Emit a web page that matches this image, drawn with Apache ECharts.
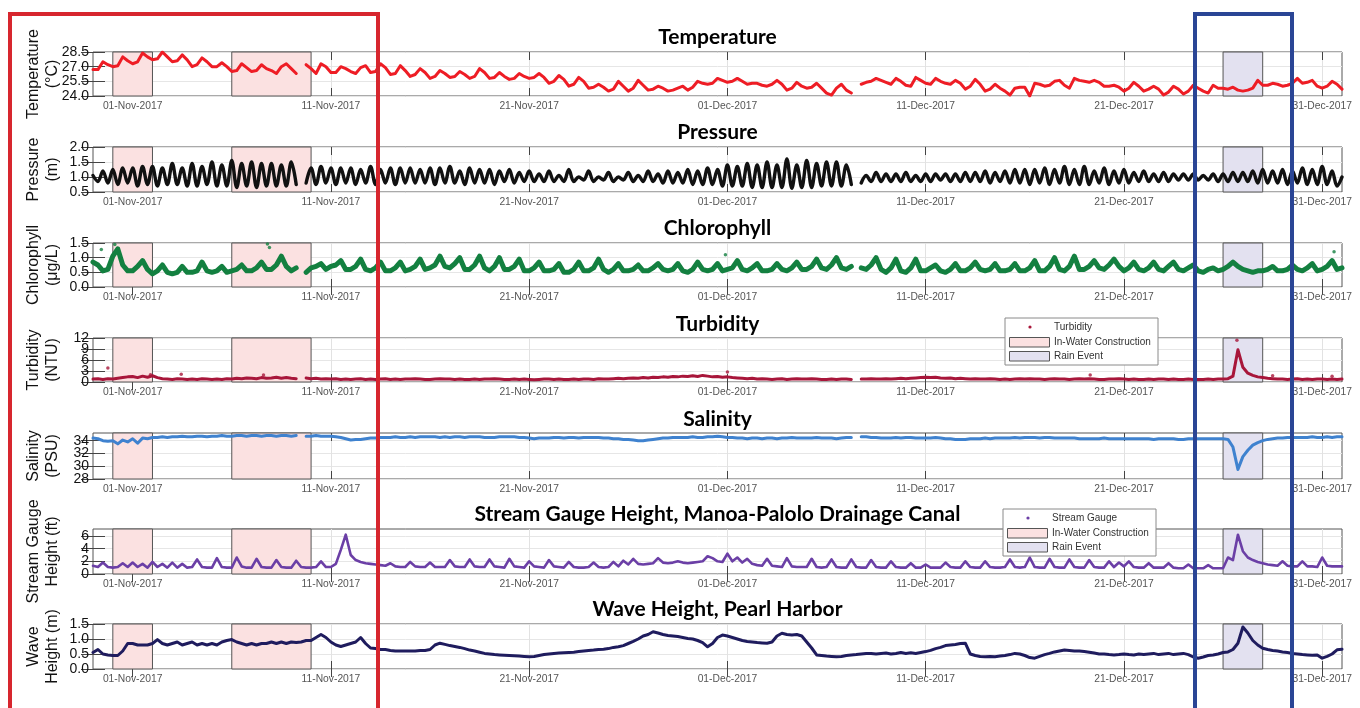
<!DOCTYPE html>
<html><head><meta charset="utf-8">
<script src="https://cdn.jsdelivr.net/npm/echarts@6/dist/echarts.min.js"></script>
<style>html,body{margin:0;padding:0;background:#fff}#c{width:1360px;height:708px}</style>
</head><body><div id="c"></div>
<script>
// ---- time base: x values are days since 30-Oct-2017 00:00, sampled every 6 h ----
const START_UTC = Date.UTC(2017, 9, 30);
const STEP_DAYS = 0.25;
const X_MAX_DAYS = 63;
const tickDays = [2, 12, 22, 32, 42, 52, 62];           // 01-Nov ... 31-Dec
const constructionPeriods = [[1, 3], [7, 11]];          // 31-Oct..02-Nov, 06-Nov..10-Nov
const rainPeriods = [[57, 59]];                         // 26-Dec..28-Dec
const panelTitles = ['Temperature','Pressure','Chlorophyll','Turbidity','Salinity','Stream Gauge Height, Manoa-Palolo Drainage Canal','Wave Height, Pearl Harbor'];
const yNames = ['Temperature\n(°C)','Pressure\n(m)','Chlorophyll\n(μg/L)','Turbidity\n(NTU)','Salinity\n(PSU)','Stream Gauge\nHeight (ft)','Wave\nHeight (m)'];
const seriesNames = ['Temperature','Pressure','Chlorophyll','Turbidity','Salinity','Stream Gauge','Wave Height'];

const temperature = [
26.7,26.7,27.5,27.2, 27.0,27.1,28.0,27.6, 27.3,27.5,28.4,28.0, 27.7,27.8,28.5,28.0, 27.5,27.6,28.2,27.7,
27.0,27.2,27.9,27.5, 27.0,27.0,27.4,27.0, 26.5,26.6,27.3,26.9, 26.5,26.6,27.2,26.8, 26.6,26.3,27.0,27.3,
26.8,26.3,null,27.2, 26.8,26.3,27.3,27.0, 26.4,26.4,27.0,26.8, 26.5,26.3,26.9,27.1, 26.4,26.5,27.3,26.9,
26.2,26.3,27.1,26.6, 26.0,26.2,26.8,26.4, 25.8,26.0,26.6,26.3, 25.9,26.0,26.5,26.2, 25.8,26.0,26.8,26.4,
25.8,25.9,26.4,26.0, 25.7,25.8,26.3,26.0, 25.8,25.9,26.3,25.9, 25.3,25.5,26.1,25.7, 25.0,25.2,25.9,25.5,
24.8,24.9,25.2,24.9, 24.5,24.7,25.5,25.0, 24.5,24.8,25.6,25.1, 24.6,24.7,25.0,24.8, 24.5,24.6,24.8,25.0,
24.6,24.9,25.5,25.3, 25.2,25.3,25.8,25.6, 25.4,25.5,25.8,25.5, 25.2,25.3,25.3,25.1, 25.0,25.2,25.6,25.2,
24.6,24.8,25.4,25.0, 24.8,24.9,25.3,24.8, 24.3,24.1,24.8,25.2, 24.6,24.3,null,25.2, 25.4,25.5,25.8,25.6,
25.4,25.2,25.8,25.5, 25.1,25.0,25.9,25.6, 25.3,25.2,25.8,25.5, 25.3,25.2,25.6,25.3, 24.7,25.0,25.7,25.2,
24.5,24.7,25.2,24.8, 24.5,24.1,24.8,24.9, 24.9,24.0,25.3,25.2, 25.0,25.1,25.5,25.6, 25.1,24.8,25.8,25.6,
25.5,25.4,25.6,25.4, 25.0,25.0,25.1,24.9, 24.5,24.8,25.4,25.0, 24.5,24.7,25.0,24.7, 24.1,24.4,25.0,24.7,
24.2,24.5,25.1,24.8, 24.5,24.3,25.1,24.8, 24.8,24.7,24.9,24.6, 24.5,24.6,24.8,25.6, 25.1,25.1,25.3,25.2,
25.0,25.1,25.3,25.8, 25.3,25.4,25.6,25.0, 24.8,25.0,25.5,25.2, 24.7];

const pressure = [
1.05,0.85,1.2,0.8, 1.25,0.75,1.3,0.8, 1.3,0.7,1.35,0.75, 1.35,0.7,1.3,0.75, 1.45,0.75,1.3,0.7,
1.45,0.7,1.35,0.75, 1.5,0.7,1.4,0.7, 1.55,0.65,1.45,0.7, 1.5,0.65,1.45,0.7, 1.45,0.7,1.4,0.7,
1.5,0.75,null,0.8, 1.3,0.75,1.35,0.8, 1.3,0.75,1.3,0.8, 1.3,0.75,1.25,0.8, 1.35,0.75,1.25,0.8,
1.3,0.75,1.3,0.8, 1.3,0.8,1.25,0.8, 1.3,0.75,1.3,0.8, 1.35,0.8,1.2,0.75, 1.3,0.8,1.25,0.8,
1.25,0.75,1.2,0.85, 1.25,0.8,1.15,0.85, 1.2,0.85,1.1,0.85, 1.2,0.85,1.05,0.85, 1.25,0.85,1.0,0.9,
1.2,0.85,1.0,0.9, 1.15,0.85,1.0,0.9, 1.15,0.85,1.05,0.85, 1.2,0.85,1.1,0.8, 1.2,0.8,1.15,0.8,
1.25,0.75,1.2,0.75, 1.3,0.75,1.25,0.7, 1.4,0.7,1.35,0.7, 1.45,0.65,1.4,0.65, 1.5,0.65,1.4,0.65,
1.6,0.62,1.4,0.65, 1.55,0.65,1.45,0.7, 1.5,0.7,1.5,0.7, 1.4,0.75,null,0.8, 1.05,0.85,1.15,0.85,
1.1,0.85,1.1,0.85, 1.15,0.85,1.05,0.85, 1.1,0.85,1.1,0.9, 1.1,0.85,1.1,0.85, 1.15,0.85,1.15,0.85,
1.2,0.8,1.15,0.85, 1.2,0.8,1.25,0.8, 1.25,0.75,1.25,0.8, 1.3,0.75,1.25,0.8, 1.35,0.75,1.25,0.75,
1.35,0.75,1.2,0.8, 1.3,0.75,1.2,0.8, 1.25,0.8,1.15,0.85, 1.2,0.85,1.1,0.85, 1.15,0.85,1.1,0.9,
1.1,0.9,1.1,0.9, 1.05,0.9,1.1,0.85, 1.1,0.85,1.15,0.85, 1.15,0.85,1.2,0.8, 1.25,0.8,1.2,0.8,
1.25,0.75,1.2,0.8, 1.3,0.75,1.25,0.75, 1.35,0.75,1.2,0.7, 1.0];

const chlorophyll = [
0.85,0.75,0.55,0.6, 1.05,1.3,0.75,0.55, 0.55,0.7,0.9,0.6, 0.45,0.55,0.75,0.5, 0.45,0.5,0.7,0.5,
0.5,0.55,0.85,0.55, 0.5,0.55,0.7,0.5, 0.55,0.6,0.75,0.55, 0.55,0.65,0.85,0.6, 0.6,0.75,1.05,0.7,
0.55,0.65,null,0.5, 0.65,0.7,0.8,0.6, 0.7,0.75,0.9,0.6, 0.6,0.7,0.95,0.6, 0.55,0.65,0.85,0.55,
0.55,0.65,0.85,0.55, 0.6,0.7,0.95,0.6, 0.65,0.75,1.05,0.7, 0.65,0.8,1.0,0.6, 0.6,0.75,1.05,0.65,
0.55,0.7,1.0,0.6, 0.6,0.7,0.95,0.55, 0.55,0.65,0.85,0.55, 0.55,0.6,0.8,0.5, 0.5,0.6,0.85,0.55,
0.55,0.65,0.95,0.6, 0.5,0.6,0.8,0.55, 0.55,0.6,0.75,0.55, 0.55,0.65,0.8,0.6, 0.55,0.6,0.8,0.55,
0.5,0.6,0.85,0.6, 0.55,0.6,0.8,0.55, 0.6,0.65,0.9,0.6, 0.55,0.65,0.8,0.55, 0.55,0.6,0.8,0.6,
0.55,0.65,0.85,0.6, 0.6,0.7,0.95,0.65, 0.6,0.75,1.0,0.65, 0.6,0.7,null,0.65, 0.6,0.75,1.0,0.6,
0.5,0.65,0.95,0.55, 0.5,0.65,0.95,0.55, 0.55,0.65,0.75,0.55, 0.5,0.6,0.8,0.55, 0.55,0.65,0.85,0.6,
0.55,0.6,0.8,0.55, 0.55,0.6,0.8,0.55, 0.55,0.65,0.9,0.55, 0.55,0.7,1.0,0.6, 0.55,0.7,1.05,0.6,
0.6,0.7,0.9,0.65, 0.6,0.75,0.95,0.7, 0.55,0.65,0.85,0.6, 0.55,0.65,0.85,0.6, 0.55,0.7,0.85,0.6,
0.55,0.65,0.75,0.55, 0.5,0.6,0.65,0.55, 0.6,0.7,0.85,0.7, 0.6,0.55,0.5,0.55, 0.55,0.6,0.7,0.55,
0.55,0.6,0.75,0.6, 0.55,0.65,0.8,0.55, 0.6,0.7,0.9,0.6, 0.65];
const chlorophyllOutliers = [[0.42, 1.28], [1.1, 1.45], [8.8, 1.47], [8.9, 1.35], [31.9, 1.1], [55.6, 1.3], [62.6, 1.2]];

const turbidity = [
0.8,0.9,0.7,0.9, 0.8,1.0,1.2,1.4, 1.5,1.2,1.6,1.3, 1.7,1.2,0.9,0.8, 0.7,0.9,0.8,0.7,
0.8,0.7,0.9,0.8, 0.7,0.8,0.7,0.9, 0.8,1.0,0.9,1.1, 1.0,0.9,1.2,1.0, 1.1,1.3,1.0,1.2,
1.0,0.9,null,1.1, 0.9,1.0,0.8,0.9, 0.8,0.9,0.7,0.8, 0.7,0.8,0.9,0.7, 0.8,0.7,0.8,0.9,
0.7,0.8,0.7,0.8, 0.8,0.9,0.8,0.7, 0.7,0.8,0.9,0.8, 0.8,0.7,0.8,0.7, 0.7,0.8,0.7,0.8,
0.8,0.9,0.8,0.7, 0.7,0.8,0.7,0.8, 0.7,0.6,0.7,0.8, 0.8,0.7,0.8,0.7, 0.7,0.8,0.7,0.8,
0.8,0.7,0.9,0.8, 0.8,0.9,1.0,0.9, 1.0,1.1,1.0,1.2, 1.1,1.3,1.2,1.4, 1.3,1.5,1.4,1.6,
1.5,1.7,1.5,1.8, 1.6,1.4,1.5,1.3, 1.4,1.2,1.1,1.0, 0.9,1.0,0.8,0.9, 0.8,0.7,0.8,0.9,
0.7,0.8,0.9,0.8, 0.8,0.9,0.8,0.7, 0.7,0.8,0.7,0.8, 0.8,0.7,null,0.8, 0.8,0.9,0.8,0.8,
0.9,0.8,0.9,1.0, 0.9,1.0,1.1,1.2, 1.3,1.2,1.3,1.1, 1.0,1.1,0.9,1.0, 0.9,0.8,0.9,0.8,
0.8,0.9,0.8,0.7, 0.8,0.7,0.8,0.9, 0.8,0.9,0.8,0.8, 0.7,0.8,0.9,0.8, 0.8,0.7,0.8,0.9,
0.8,0.9,0.8,0.7, 0.7,0.8,0.8,0.9, 0.8,0.7,0.8,0.7, 0.7,0.8,0.7,0.8, 0.8,0.7,0.8,0.7,
0.7,0.8,0.7,0.7, 0.7,0.8,0.7,0.8, 0.8,0.9,1.6,8.8, 4.0,2.4,1.8,1.4, 1.2,1.0,0.9,0.8,
0.8,0.7,0.8,0.9, 0.7,0.8,0.7,0.8, 0.8,0.7,0.8,0.7, 0.8];
const turbidityOutliers = [[0.75, 3.8], [2.9, 2.0], [4.45, 2.1], [8.6, 1.9], [32.0, 2.7], [50.3, 1.9], [57.7, 11.4], [59.5, 1.7], [62.5, 1.6]];

const salinity = [
34.4,34.3,34.0,33.9, 34.0,33.5,34.1,33.8, 34.3,33.6,34.4,34.3, 34.5,34.5,34.6,34.5, 34.6,34.6,34.7,34.6,
34.6,34.7,34.7,34.6, 34.7,34.7,34.8,34.7, 34.7,34.8,34.8,34.7, 34.8,34.8,34.7,34.8, 34.8,34.7,34.8,34.8,
34.7,34.8,null,34.7, 34.7,34.8,34.7,34.7, 34.7,34.6,34.5,34.3, 34.1,34.2,34.2,34.3, 34.4,34.4,34.5,34.5,
34.5,34.6,34.5,34.5, 34.6,34.5,34.6,34.6, 34.6,34.6,34.5,34.6, 34.5,34.6,34.6,34.5, 34.6,34.6,34.6,34.5,
34.5,34.5,34.6,34.6, 34.6,34.6,34.5,34.5, 34.4,34.3,34.4,34.4, 34.4,34.5,34.5,34.4, 34.5,34.5,34.4,34.5,
34.5,34.5,34.5,34.4, 34.4,34.3,34.3,34.2, 34.2,34.1,34.0,34.0, 34.1,34.2,34.3,34.4, 34.4,34.5,34.5,34.5,
34.5,34.6,34.5,34.5, 34.6,34.6,34.7,34.6, 34.5,34.5,34.4,34.4, 34.3,34.4,34.4,34.3, 34.4,34.4,34.3,34.4,
34.4,34.5,34.4,34.4, 34.4,34.4,34.5,34.4, 34.4,34.4,34.3,34.4, 34.5,34.5,null,34.6, 34.6,34.5,34.5,34.4,
34.4,34.4,34.5,34.4, 34.5,34.5,34.4,34.4, 34.4,34.4,34.5,34.4, 34.3,34.3,34.2,34.2, 34.2,34.3,34.3,34.3,
34.4,34.3,34.4,34.4, 34.4,34.4,34.5,34.4, 34.5,34.5,34.5,34.4, 34.5,34.5,34.4,34.4, 34.4,34.4,34.4,34.3,
34.3,34.3,34.3,34.3, 34.4,34.3,34.3,34.3, 34.3,34.3,34.3,34.3, 34.3,34.3,34.2,34.3, 34.3,34.3,34.3,34.2,
34.2,34.3,34.3,34.3, 34.3,34.3,34.3,34.3, 34.3,34.2,33.0,29.5, 31.5,32.5,33.3,33.7, 34.0,34.2,34.3,34.4,
34.4,34.5,34.5,34.5, 34.5,34.5,34.6,34.5, 34.5,34.6,34.5,34.6, 34.6];

const streamGauge = [
1.3,1.1,1.8,1.1, 1.0,1.1,1.7,1.1, 1.8,1.1,1.6,1.0, 1.9,1.1,1.6,1.0, 1.8,1.0,1.6,1.0,
1.1,2.3,1.1,1.0, 1.0,2.5,1.1,1.0, 1.0,2.6,1.2,1.0, 1.0,2.4,1.1,1.0, 1.0,2.2,1.1,1.0,
1.0,2.1,1.1,1.0, 1.0,1.1,2.0,1.1, 1.1,1.6,3.8,6.2, 3.0,2.2,1.9,1.7, 1.6,1.5,1.4,1.3,
1.7,1.2,1.1,1.1, 1.9,1.2,1.1,1.1, 1.8,1.1,1.1,1.1, 2.2,1.2,1.1,1.1, 2.3,1.2,1.1,1.1,
2.3,1.2,1.1,1.0, 2.4,1.2,1.1,1.0, 2.0,1.2,1.1,1.0, 2.2,1.2,1.1,1.0, 1.9,1.1,1.0,1.0,
1.1,1.8,1.1,1.0, 1.1,1.9,1.2,2.1, 1.5,2.4,1.6,1.5, 1.6,1.7,2.5,1.8, 1.7,1.8,2.0,1.8,
1.7,1.8,1.9,2.0, 2.8,2.5,2.0,1.9, 3.2,2.0,2.6,1.8, 2.4,1.6,1.4,1.3, 2.4,1.3,1.2,1.1,
2.5,1.2,1.1,1.1, 1.1,2.4,1.1,1.0, 1.1,2.3,1.1,1.0, 1.0,2.3,1.1,1.0, 1.0,2.2,1.1,1.0,
1.0,2.0,1.1,1.0, 1.0,1.7,1.0,1.0, 1.5,1.0,1.0,1.0, 1.8,1.1,1.0,1.0, 2.0,1.1,1.0,1.0,
2.0,1.1,1.0,1.0, 1.1,2.3,1.1,1.0, 1.1,2.6,1.1,1.0, 1.0,2.4,1.1,1.0, 1.0,2.3,1.1,1.0,
1.0,2.2,1.1,1.0, 1.0,2.0,1.1,1.8, 1.2,2.0,1.1,1.0, 1.0,1.7,1.0,1.0, 1.0,1.7,1.0,0.9,
0.9,1.5,0.9,0.9, 0.9,1.4,0.9,0.9, 0.9,2.6,2.2,6.2, 3.6,2.6,2.2,1.9, 1.7,1.5,1.4,1.3,
2.0,1.3,1.2,1.2, 2.0,1.2,1.2,1.1, 2.6,1.3,1.2,1.2, 1.2];

const waveHeight = [
0.55,0.65,0.5,0.47, 0.45,0.45,0.6,0.85, 0.85,0.8,0.8,0.8, 0.85,0.98,0.85,0.8, 0.85,0.9,0.8,0.85,
0.9,0.8,0.85,0.8, 0.85,0.8,0.9,0.95, 0.98,0.9,0.85,0.8, 0.85,0.8,0.85,0.85, 0.9,0.85,0.9,0.85,
0.9,0.88,0.9,0.95, 0.95,1.05,1.15,1.05, 0.9,0.8,0.75,0.8, 0.85,0.9,1.05,0.85, 0.7,0.68,0.65,0.65,
0.62,0.6,0.6,0.6, 0.6,0.6,0.62,0.62, 0.65,0.8,0.86,0.82, 0.78,0.75,0.72,0.68, 0.63,0.6,0.56,0.52,
0.5,0.48,0.47,0.46, 0.45,0.44,0.43,0.42, 0.41,0.42,0.45,0.48, 0.5,0.52,0.53,0.54, 0.55,0.56,0.58,0.6,
0.62,0.63,0.65,0.66, 0.68,0.72,0.74,0.78, 0.85,0.92,1.0,1.1, 1.15,1.24,1.2,1.15, 1.12,1.1,1.08,1.05,
1.02,1.0,0.95,0.88, 0.74,0.85,1.05,1.13, 1.1,1.05,1.0,0.95, 0.92,0.9,0.88,0.87, 0.86,0.9,1.1,1.19,
1.15,1.13,1.15,1.1, 0.9,0.7,0.47,0.45, 0.43,0.42,0.41,0.42, 0.45,0.47,0.48,0.5, 0.52,0.52,0.5,0.52,
0.53,0.5,0.52,0.55, 0.52,0.54,0.52,0.55, 0.58,0.62,0.68,0.72, 0.78,0.8,0.82,0.85, 0.86,0.5,0.45,0.42,
0.41,0.42,0.41,0.43, 0.45,0.48,0.52,0.5, 0.45,0.38,0.36,0.42, 0.48,0.52,0.57,0.6, 0.63,0.62,0.6,0.6,
0.58,0.56,0.53,0.5, 0.5,0.48,0.47,0.48, 0.5,0.48,0.47,0.5, 0.48,0.5,0.52,0.48, 0.5,0.52,0.48,0.5,
0.52,0.48,0.4,0.36, 0.4,0.45,0.47,0.5, 0.55,0.57,0.65,0.86, 1.4,1.2,0.95,0.8, 0.69,0.65,0.62,0.6,
0.57,0.55,0.52,0.5, 0.48,0.47,0.46,0.47, 0.36,0.42,0.5,0.64, 0.66];

// ---- axis ranges and tick labels ----
const yMins = [24, 0.5, 0, 0, 28, 0, 0];
const yMaxs = [28.5, 2.0, 1.5, 12, 35.2, 7.1, 1.5];
const yIntervals = [1.5, 0.5, 0.5, 3, 2, 2, 0.5];
const yTickValues = [
  [24.0, 25.5, 27.0, 28.5], [0.5, 1.0, 1.5, 2.0], [0.0, 0.5, 1.0, 1.5], [0, 3, 6, 9, 12],
  [28, 30, 32, 34], [0, 2, 4, 6], [0.0, 0.5, 1.0, 1.5]];
const yDecimals = [1, 1, 1, 0, 0, 0, 1];

// ---- styling / layout (not data) ----
const panelValues = [temperature, pressure, chlorophyll, turbidity, salinity, streamGauge, waveHeight];
const panelOutliers = [null, null, chlorophyllOutliers, turbidityOutliers, null, null, null];
const colors = ['#ee1d25', '#111111', '#138040', '#a8163a', '#3f82cf', '#6b3fa6', '#1f1c5e'];
const widths = [3, 3.4, 5, 3, 3, 2.6, 3];
const smooths = [false, 0.35, false, false, false, false, false];
const gridTops = [52, 147, 243, 338, 433, 529, 624];
const gridHeights = [44, 45, 44, 44, 46, 45, 45];
const titleCenters = [37, 132, 228, 324, 419, 514, 609];
const GRID_LEFT = 93, GRID_RIGHT = 18;
const PINK = '#fbe1e1', LAVENDER = '#e3e1f0';

const MONTHS = ['Jan','Feb','Mar','Apr','May','Jun','Jul','Aug','Sep','Oct','Nov','Dec'];
function fmtDate(d) {
  const dt = new Date(START_UTC + Math.round(d * 86400000));
  return String(dt.getUTCDate()).padStart(2, '0') + '-' + MONTHS[dt.getUTCMonth()] + '-' + dt.getUTCFullYear();
}
const toXY = vals => vals.map((v, k) => [k * STEP_DAYS, v]);
const areaData = periods => periods.map(([a, b]) => [{ xAxis: a }, { xAxis: b }]);

const grid = [], xAxis = [], yAxis = [], series = [], title = [];
for (let i = 0; i < 7; i++) {
  grid.push({ left: GRID_LEFT, right: GRID_RIGHT, top: gridTops[i], height: gridHeights[i], show: true,
    borderColor: '#555', borderWidth: 1, backgroundColor: 'rgba(0,0,0,0)' });
  const tickCommon = { show: true, inside: true, length: 8, lineStyle: { color: '#444', width: 1 }, customValues: tickDays };
  xAxis.push({ type: 'value', gridIndex: i, min: 0, max: X_MAX_DAYS, position: 'bottom',
    axisLine: { show: false }, axisTick: tickCommon,
    axisLabel: { customValues: tickDays, formatter: fmtDate, fontSize: 10.3, color: '#555', margin: 5, fontFamily: 'Liberation Sans',
      hideOverlap: false, showMinLabel: true, showMaxLabel: true },
    splitLine: { show: true, lineStyle: { color: '#e2e2e2', width: 1 } } });
  xAxis.push({ type: 'value', gridIndex: i, min: 0, max: X_MAX_DAYS, position: 'top',
    axisLine: { show: false }, axisTick: tickCommon, axisLabel: { show: false }, splitLine: { show: false } });

  const dec = yDecimals[i];
  const yTicks = yTickValues[i];
  const evenTicks = yTicks.filter((v, k) => k % 2 === 0);
  const oddTicks = yTicks.filter((v, k) => k % 2 === 1);
  const labelStyle = { fontSize: 14, color: '#111', margin: 4, fontFamily: 'Liberation Sans',
    hideOverlap: false, showMinLabel: true, showMaxLabel: true, formatter: v => Number(v).toFixed(dec) };
  // main left axis: ticks, grid lines, name, labels of every other tick
  yAxis.push({ type: 'value', gridIndex: i, min: yMins[i], max: yMaxs[i], interval: yIntervals[i], position: 'left',
    axisLine: { show: false },
    axisTick: { show: true, inside: true, length: 12, lineStyle: { color: '#444' }, customValues: yTicks },
    axisLabel: Object.assign({ customValues: evenTicks }, labelStyle),
    splitLine: { show: true, lineStyle: { color: '#e6e6e6' } },
    name: yNames[i], nameLocation: 'middle', nameRotate: 90, nameGap: 31, nameMoveOverlap: false,
    nameTextStyle: { fontSize: 16, lineHeight: 19, color: '#111', fontFamily: 'Liberation Sans' } });
  // mirrored right axis: inward ticks only
  yAxis.push({ type: 'value', gridIndex: i, min: yMins[i], max: yMaxs[i], interval: yIntervals[i], position: 'right',
    axisLine: { show: false }, axisTick: { show: true, inside: true, length: 12, lineStyle: { color: '#444' }, customValues: yTicks },
    axisLabel: { show: false }, splitLine: { show: false } });
  // companion left axis carrying the remaining tick labels
  yAxis.push({ type: 'value', gridIndex: i, min: yMins[i], max: yMaxs[i], interval: yIntervals[i], position: 'left', offset: 0,
    axisLine: { show: false }, axisTick: { show: false }, splitLine: { show: false },
    axisLabel: Object.assign({ customValues: oddTicks }, labelStyle) });

  const yi = 3 * i;
  series.push({ name: 'In-Water Construction', type: 'line', xAxisIndex: 2 * i, yAxisIndex: yi, data: [], silent: true, z: 1,
    markArea: { silent: true, itemStyle: { color: PINK, borderColor: '#555', borderWidth: 1 }, data: areaData(constructionPeriods) } });
  series.push({ name: 'Rain Event', type: 'line', xAxisIndex: 2 * i, yAxisIndex: yi, data: [], silent: true, z: 1,
    markArea: { silent: true, itemStyle: { color: LAVENDER, borderColor: '#555', borderWidth: 1 }, data: areaData(rainPeriods) } });
  series.push({ name: seriesNames[i], type: 'line', xAxisIndex: 2 * i, yAxisIndex: yi, data: toXY(panelValues[i]),
    showSymbol: false, smooth: smooths[i], connectNulls: false, z: 3,
    lineStyle: { color: colors[i], width: widths[i], join: 'round', cap: 'round' }, itemStyle: { color: colors[i] } });
  if (panelOutliers[i]) {
    series.push({ name: seriesNames[i], type: 'scatter', xAxisIndex: 2 * i, yAxisIndex: yi, data: panelOutliers[i],
      symbolSize: 3.5, z: 4, itemStyle: { color: colors[i] } });
  }
  title.push({ text: panelTitles[i], left: 717.5, top: titleCenters[i] - 10, textAlign: 'center', padding: 0,
    textStyle: { fontSize: 21, fontWeight: 'bold', color: '#000', fontFamily: 'Lato' } });
}

function legendBox(x, y, label, dotColor) {
  const tf = { fontSize: 10, fontFamily: 'Liberation Sans', fill: '#333', verticalAlign: 'middle', align: 'left' };
  const Z = 60;
  return [
    { type: 'rect', z: Z, shape: { x: x, y: y, width: 153, height: 47 }, style: { fill: '#fff', stroke: '#8a8a8a', lineWidth: 1 } },
    { type: 'circle', z: Z + 1, shape: { cx: x + 25, cy: y + 9, r: 1.6 }, style: { fill: dotColor } },
    { type: 'text', z: Z + 1, style: Object.assign({ x: x + 49, y: y + 9, text: label }, tf) },
    { type: 'rect', z: Z + 1, shape: { x: x + 4.5, y: y + 19.5, width: 40, height: 9.5 }, style: { fill: PINK, stroke: '#555', lineWidth: 1 } },
    { type: 'text', z: Z + 1, style: Object.assign({ x: x + 49, y: y + 24, text: 'In-Water Construction' }, tf) },
    { type: 'rect', z: Z + 1, shape: { x: x + 4.5, y: y + 33.5, width: 40, height: 9.5 }, style: { fill: LAVENDER, stroke: '#555', lineWidth: 1 } },
    { type: 'text', z: Z + 1, style: Object.assign({ x: x + 49, y: y + 38, text: 'Rain Event' }, tf) }
  ];
}

const option = {
  animation: false,
  backgroundColor: '#fff',
  title: title,
  grid: grid, xAxis: xAxis, yAxis: yAxis, series: series,
  graphic: [].concat(
    legendBox(1005, 318, 'Turbidity', colors[3]),
    legendBox(1003, 509, 'Stream Gauge', colors[5]),
    [
      { type: 'rect', z: 100, shape: { x: 10, y: 14, width: 368, height: 720 }, style: { fill: 'none', stroke: '#d7262e', lineWidth: 4 } },
      { type: 'rect', z: 100, shape: { x: 1195, y: 14, width: 97, height: 720 }, style: { fill: 'none', stroke: '#2a4595', lineWidth: 4 } }
    ])
};
const chart = echarts.init(document.getElementById('c'), null, { renderer: 'canvas' });
chart.setOption(option);
</script>
</body></html>
